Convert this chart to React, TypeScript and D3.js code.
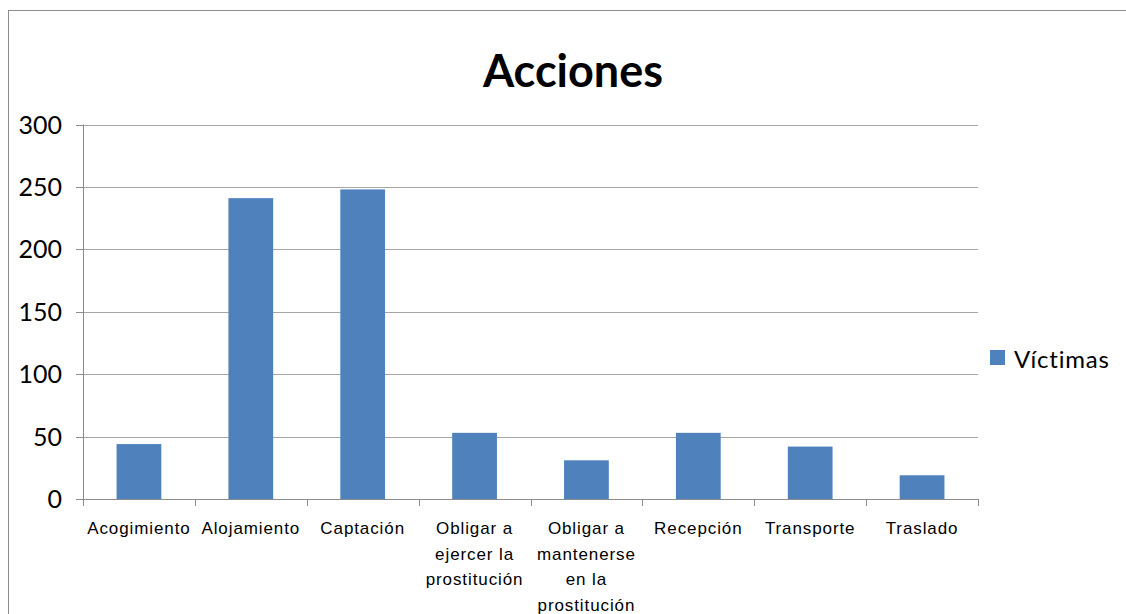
import React from "react";
import * as d3 from "d3";

const categories: string[][] = [
  ["Acogimiento"],
  ["Alojamiento"],
  ["Captación"],
  ["Obligar a", "ejercer la", "prostitución"],
  ["Obligar a", "mantenerse", "en la", "prostitución"],
  ["Recepción"],
  ["Transporte"],
  ["Traslado"],
];
const values: number[] = [44, 241, 248, 53, 31, 53, 42, 19];
const yTicks: number[] = [0, 50, 100, 150, 200, 250, 300];
const seriesName = "Víctimas";
const title = "Acciones";

const W = 1126;
const H = 614;
const left = 83;
const right = 978;
const top = 124.5;
const bottom = 499;

export default function App() {
  const x = d3
    .scaleBand<number>()
    .domain(d3.range(categories.length))
    .range([left, right])
    .paddingInner(0.6)
    .paddingOuter(0.3);
  const step = (right - left) / categories.length;
  const y = d3.scaleLinear().domain([0, 300]).range([bottom, top]);
  const axisColor = "#8c8c8c";
  const gridColor = "#a6a6a6";
  const uiFont = "Lato, 'Open Sans', sans-serif";
  const labelFont = "'Liberation Sans', Arial, sans-serif";

  return (
    <svg
      width={W}
      height={H}
      style={{ position: "fixed", left: 0, top: 0, display: "block", background: "#fff" }}
    >
      <rect x={8.5} y={10.5} width={1300} height={700} fill="#fff" stroke="#8c8c8c" strokeWidth={1} />
      <text x={573} y={87} textAnchor="middle" fontFamily={uiFont} fontWeight="bold" fontSize={45} fill="#000">
        {title}
      </text>
      {yTicks.map((t) => (
        <g key={t}>
          {t > 0 && (
            <line x1={left} x2={right} y1={Math.round(y(t)) + 0.5} y2={Math.round(y(t)) + 0.5} stroke={gridColor} strokeWidth={1} />
          )}
          <line x1={left - 7} x2={left} y1={Math.round(y(t)) + 0.5} y2={Math.round(y(t)) + 0.5} stroke={axisColor} strokeWidth={1} />
          <text x={62} y={y(t) + 9} textAnchor="end" fontFamily={uiFont} fontSize={25} fill="#000">
            {t}
          </text>
        </g>
      ))}
      {values.map((v, i) => (
        <rect key={i} x={x(i)} y={y(v)} width={x.bandwidth()} height={y(0) - y(v)} fill="#4f81bd" />
      ))}
      <line x1={left + 0.5} x2={left + 0.5} y1={top} y2={bottom} stroke={axisColor} strokeWidth={1} />
      <line x1={left} x2={right} y1={Math.round(bottom) + 0.5} y2={Math.round(bottom) + 0.5} stroke={axisColor} strokeWidth={1} />
      {d3.range(categories.length + 1).map((i) => (
        <line
          key={i}
          x1={Math.round(left + i * step) + 0.5}
          x2={Math.round(left + i * step) + 0.5}
          y1={bottom}
          y2={bottom + 7}
          stroke={axisColor}
          strokeWidth={1}
        />
      ))}
      {categories.map((lines, i) => (
        <text
          key={i}
          x={left + (i + 0.5) * step}
          y={534}
          textAnchor="middle"
          fontFamily={labelFont}
          fontSize={17}
          letterSpacing={0.9}
          fill="#000"
        >
          {lines.map((l, j) => (
            <tspan key={j} x={left + (i + 0.5) * step} dy={j === 0 ? 0 : 25.5}>
              {l}
            </tspan>
          ))}
        </text>
      ))}
      <rect x={990} y={350} width={15} height={15} fill="#4f81bd" />
      <text x={1014} y={368} fontFamily={uiFont} fontSize={24} letterSpacing={0.8} fill="#000">
        {seriesName}
      </text>
    </svg>
  );
}
